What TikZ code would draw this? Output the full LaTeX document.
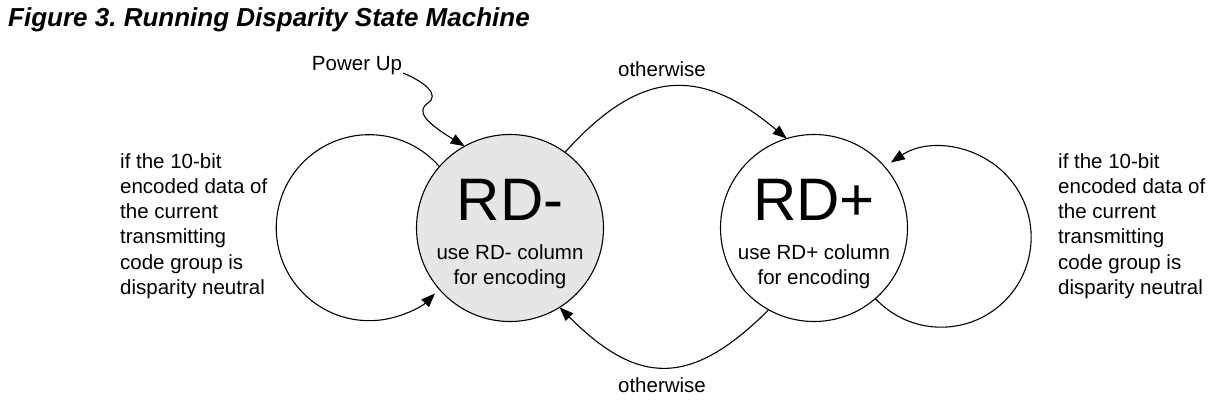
\documentclass[tikz,border=0pt]{standalone}
\usepackage{fontspec}
\setmainfont{Liberation Sans}
\usetikzlibrary{arrows.meta,calc}
\definecolor{rdgray}{RGB}{230,230,232}
\frenchspacing
\begin{document}
\begin{tikzpicture}[x=1pt,y=1pt,
  state/.style={circle,draw,line width=1.1pt,minimum size=187pt,inner sep=0pt,outer sep=0pt},
  conn/.style={line width=1.1pt,-{Triangle[length=14pt,width=10.5pt]}},
  lbl/.style={font=\fontsize{20.5}{25.2}\selectfont},
  big/.style={font=\fontsize{60}{60}\selectfont}]
\useasboundingbox (0,0) rectangle (1219,-408);
\node[anchor=base west, inner sep=0pt, font=\fontsize{26}{26}\selectfont\bfseries\itshape] (title) at (8,-26) {Figure 3. Running Disparity State Machine};
\node[state, fill=rdgray] (rdm) at (510,-228) {};
\node[state] (rdp) at (814,-228) {};
\node[big, anchor=base, inner sep=0pt] (rdmt) at (510,-220) {RD-};
\node[lbl, anchor=base, inner sep=0pt] (rdmu) at (510,-259) {use RD- column};
\node[lbl, anchor=base, inner sep=0pt] (rdmf) at (510,-284) {for encoding};
\node[big, anchor=base, inner sep=0pt] (rdpt) at (814,-220) {RD+};
\node[lbl, anchor=base, inner sep=0pt] (rdpu) at (814,-259) {use RD+ column};
\node[lbl, anchor=base, inner sep=0pt] (rdpf) at (814,-284) {for encoding};
\node[lbl, anchor=base, inner sep=0pt] (pu) at (357,-70) {Power Up};
\coordinate (pus) at (403,-73);
\node[lbl, anchor=base, inner sep=0pt] (ot) at (662,-76) {otherwise};
\node[lbl, anchor=base, inner sep=0pt] (ob) at (662,-392) {otherwise};
\node[lbl, align=left, anchor=west, inner sep=0pt] (lt) at (120,-226) {if the 10-bit\\encoded data of\\the current\\transmitting\\code group is\\disparity neutral};
\node[lbl, align=left, anchor=west, inner sep=0pt] (rt) at (1058,-226) {if the 10-bit\\encoded data of\\the current\\transmitting\\code group is\\disparity neutral};
\draw[conn] (rdm.139) arc[start angle=41,end angle=315,radius=93];
\draw[conn] (rdp.311) arc[start angle=223,end angle=484,radius=90];
\draw[conn] (rdm.54) to[out=48,in=140,looseness=1.3] (rdp.107);
\draw[conn] (rdp.241) to[out=225,in=315,looseness=1.35] (rdm.302);
\draw[conn] (pus) .. controls (425,-82) and (440,-95) .. (428,-103) .. controls (416,-111) and (425,-122) .. (rdm.119);
\end{tikzpicture}
\end{document}
